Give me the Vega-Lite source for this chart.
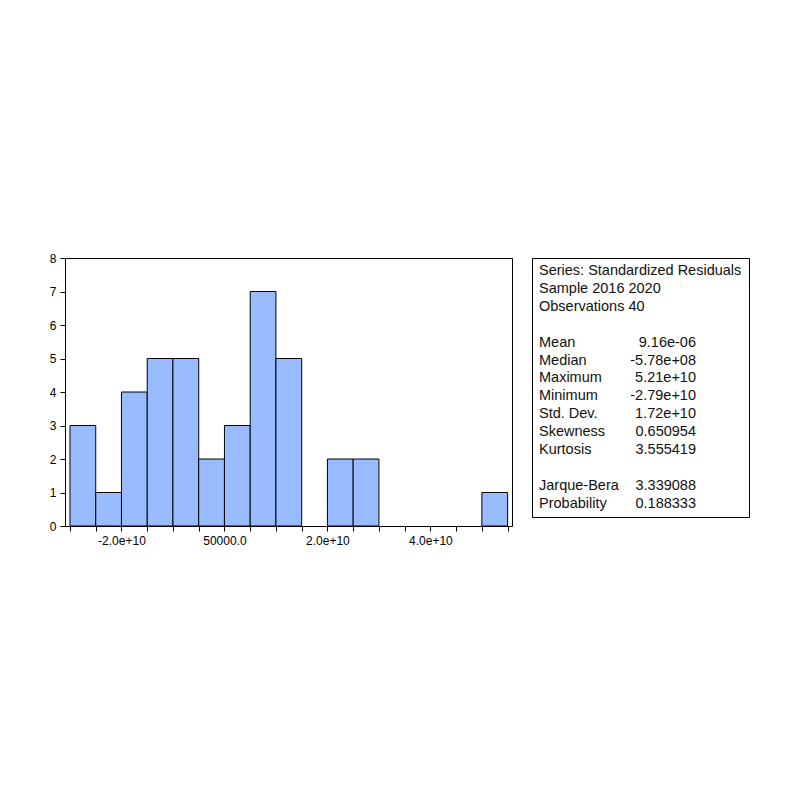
{
  "$schema": "https://vega.github.io/schema/vega-lite/v6.json",
  "padding": {"left": 48, "top": 251, "right": 5, "bottom": 5},
  "bounds": "flush",
  "spacing": 20,
  "background": "white",
  "config": {
    "font": "Liberation Sans",
    "view": {"stroke": "black", "strokeWidth": 1},
    "axis": {"labelFont": "Liberation Sans", "labelColor": "black", "tickColor": "black", "domainColor": "black", "grid": false}
  },
  "hconcat": [
    {
      "width": 447,
      "height": 268,
      "data": {"values": [
        {"bin_start": -3.0e10, "bin_end": -2.5e10, "count": 3},
        {"bin_start": -2.5e10, "bin_end": -2.0e10, "count": 1},
        {"bin_start": -2.0e10, "bin_end": -1.5e10, "count": 4},
        {"bin_start": -1.5e10, "bin_end": -1.0e10, "count": 5},
        {"bin_start": -1.0e10, "bin_end": -0.5e10, "count": 5},
        {"bin_start": -0.5e10, "bin_end": 0, "count": 2},
        {"bin_start": 0, "bin_end": 0.5e10, "count": 3},
        {"bin_start": 0.5e10, "bin_end": 1.0e10, "count": 7},
        {"bin_start": 1.0e10, "bin_end": 1.5e10, "count": 5},
        {"bin_start": 1.5e10, "bin_end": 2.0e10, "count": 0},
        {"bin_start": 2.0e10, "bin_end": 2.5e10, "count": 2},
        {"bin_start": 2.5e10, "bin_end": 3.0e10, "count": 2},
        {"bin_start": 3.0e10, "bin_end": 3.5e10, "count": 0},
        {"bin_start": 3.5e10, "bin_end": 4.0e10, "count": 0},
        {"bin_start": 4.0e10, "bin_end": 4.5e10, "count": 0},
        {"bin_start": 4.5e10, "bin_end": 5.0e10, "count": 0},
        {"bin_start": 5.0e10, "bin_end": 5.5e10, "count": 1}
      ]},
      "transform": [{"filter": "datum.count > 0"}],
      "mark": {"type": "rect", "fill": "#99BBFF", "stroke": "black", "strokeWidth": 1},
      "encoding": {
        "x": {
          "field": "bin_start", "type": "quantitative",
          "scale": {"domain": [-3.097e10, 5.585e10], "nice": false, "zero": false},
          "axis": {
            "title": null,
            "values": [-3.0e10, -2.5e10, -2.0e10, -1.5e10, -1.0e10, -0.5e10, 0, 0.5e10, 1.0e10, 1.5e10, 2.0e10, 2.5e10, 3.0e10, 3.5e10, 4.0e10, 4.5e10, 5.0e10, 5.5e10],
            "labelExpr": "datum.value == -2e10 ? '-2.0e+10' : datum.value == 0 ? '50000.0' : datum.value == 2e10 ? '2.0e+10' : datum.value == 4e10 ? '4.0e+10' : ''",
            "tickSize": 5, "labelPadding": 4, "labelFontSize": 12, "domain": false, "labelOverlap": false
          }
        },
        "x2": {"field": "bin_end"},
        "y": {
          "field": "count", "type": "quantitative",
          "scale": {"domain": [0, 8], "nice": false},
          "axis": {"title": null, "values": [0, 1, 2, 3, 4, 5, 6, 7, 8], "tickSize": 5, "labelPadding": 4, "labelFontSize": 12, "domain": false}
        },
        "y2": {"datum": 0}
      }
    },
    {
      "width": 217,
      "height": 259,
      "data": {"values": [
        {"line": 1, "label": "Series: Standardized Residuals", "value": ""},
        {"line": 2, "label": "Sample 2016 2020", "value": ""},
        {"line": 3, "label": "Observations 40", "value": ""},
        {"line": 5, "label": "Mean", "value": "9.16e-06"},
        {"line": 6, "label": "Median", "value": "-5.78e+08"},
        {"line": 7, "label": "Maximum", "value": "5.21e+10"},
        {"line": 8, "label": "Minimum", "value": "-2.79e+10"},
        {"line": 9, "label": "Std. Dev.", "value": "1.72e+10"},
        {"line": 10, "label": "Skewness", "value": "0.650954"},
        {"line": 11, "label": "Kurtosis", "value": "3.555419"},
        {"line": 13, "label": "Jarque-Bera", "value": "3.339088"},
        {"line": 14, "label": "Probability", "value": "0.188333"}
      ]},
      "encoding": {
        "y": {"field": "line", "type": "quantitative", "scale": {"domain": [0.2737, 14.743], "reverse": true, "nice": false, "zero": false}, "axis": null}
      },
      "layer": [
        {
          "mark": {"type": "text", "align": "left", "baseline": "middle", "fontSize": 14.5, "color": "#111"},
          "encoding": {"x": {"value": 7}, "text": {"field": "label"}}
        },
        {
          "mark": {"type": "text", "align": "right", "baseline": "middle", "fontSize": 14.5, "color": "#111"},
          "encoding": {"x": {"value": 164}, "text": {"field": "value"}}
        }
      ]
    }
  ]
}
